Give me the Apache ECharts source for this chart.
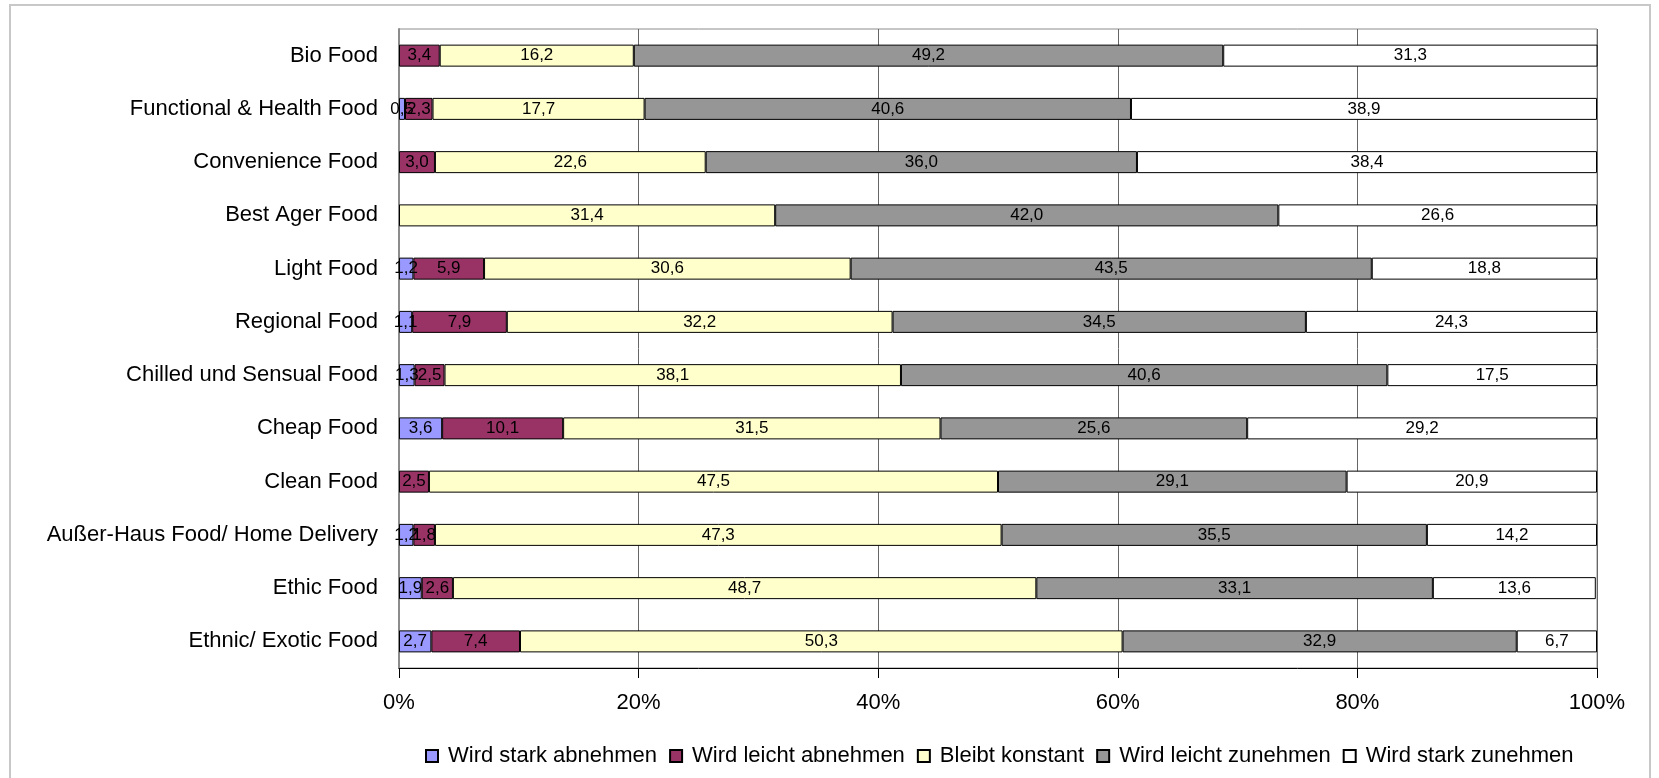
<!DOCTYPE html>
<html>
<head>
<meta charset="utf-8">
<style>
  html, body { margin: 0; padding: 0; background: #ffffff; }
  #chart { width: 1659px; height: 778px; }
</style>
<script src="https://cdn.jsdelivr.net/npm/echarts@6/dist/echarts.min.js"></script>
</head>
<body>
<div id="chart"></div>
<script>
// Categories listed bottom-to-top (category axis runs upward in ECharts)
const categories = [
  'Ethnic/ Exotic Food',
  'Ethic Food',
  'Außer-Haus Food/ Home Delivery',
  'Clean Food',
  'Cheap Food',
  'Chilled und Sensual Food',
  'Regional Food',
  'Light Food',
  'Best Ager Food',
  'Convenience Food',
  'Functional & Health Food',
  'Bio Food'
];

// Share of answers per category, in percent
const starkAbnehmen  = [2.7, 1.9, 1.2, null, 3.6, 1.3, 1.1, 1.2, null, null, 0.5, null];
const leichtAbnehmen = [7.4, 2.6, 1.8, 2.5, 10.1, 2.5, 7.9, 5.9, null, 3.0, 2.3, 3.4];
const konstant       = [50.3, 48.7, 47.3, 47.5, 31.5, 38.1, 32.2, 30.6, 31.4, 22.6, 17.7, 16.2];
const leichtZunehmen = [32.9, 33.1, 35.5, 29.1, 25.6, 40.6, 34.5, 43.5, 42.0, 36.0, 40.6, 49.2];
const starkZunehmen  = [6.7, 13.6, 14.2, 20.9, 29.2, 17.5, 24.3, 18.8, 26.6, 38.4, 38.9, 31.3];

const seriesNames = [
  'Wird stark abnehmen',
  'Wird leicht abnehmen',
  'Bleibt konstant',
  'Wird leicht zunehmen',
  'Wird stark zunehmen'
];
const seriesData = [starkAbnehmen, leichtAbnehmen, konstant, leichtZunehmen, starkZunehmen];
const seriesColors = ['#9999ff', '#993366', '#ffffcc', '#969696', '#ffffff'];

const FONT = '"Liberation Sans", Arial, sans-serif';

const chart = echarts.init(document.getElementById('chart'), null, { renderer: 'canvas' });

const series = seriesNames.map((name, i) => ({
  name: name,
  type: 'bar',
  stack: 'total',
  data: seriesData[i],
  barWidth: 22,
  itemStyle: { color: seriesColors[i], borderColor: '#000000', borderWidth: 1 },
  label: {
    show: true,
    position: 'inside',
    color: '#000000',
    fontFamily: FONT,
    fontSize: 17,
    formatter: p => (p.value == null ? '' : p.value.toFixed(1).replace('.', ','))
  },
  emphasis: { disabled: true },
  animation: false
}));

chart.setOption({
  backgroundColor: '#ffffff',
  animation: false,
  graphic: [{
    type: 'rect',
    shape: { x: 10, y: 5, width: 1640, height: 800 },
    style: { fill: 'none', stroke: '#c8c8c8', lineWidth: 2 },
    silent: true,
    z: -10
  }],
  grid: {
    left: 399,
    right: 62,
    top: 29,
    bottom: 110,
    show: true,
    borderColor: '#8c8c8c',
    borderWidth: 1
  },
  legend: {
    left: 420,
    top: 740,
    itemWidth: 12,
    itemHeight: 12,
    itemGap: 12,
    icon: 'rect',
    textStyle: { fontFamily: FONT, fontSize: 22, color: '#000000', padding: [0, 0, 0, 5] },
    data: seriesNames
  },
  xAxis: {
    type: 'value',
    min: 0,
    max: 100,
    interval: 20,
    axisLine: { show: true, lineStyle: { color: '#000000', width: 1 } },
    axisTick: { show: true, length: 10, lineStyle: { color: '#000000' } },
    axisLabel: {
      formatter: '{value}%',
      fontFamily: FONT,
      fontSize: 22,
      color: '#000000',
      margin: 24
    },
    splitLine: { show: true, lineStyle: { color: '#666666', width: 1 } }
  },
  yAxis: {
    type: 'category',
    data: categories,
    axisLine: { show: true, lineStyle: { color: '#8c8c8c', width: 2 } },
    axisTick: { show: false },
    axisLabel: {
      fontFamily: FONT,
      fontSize: 22,
      color: '#000000',
      margin: 21
    }
  },
  series: series
});
</script>
</body>
</html>
